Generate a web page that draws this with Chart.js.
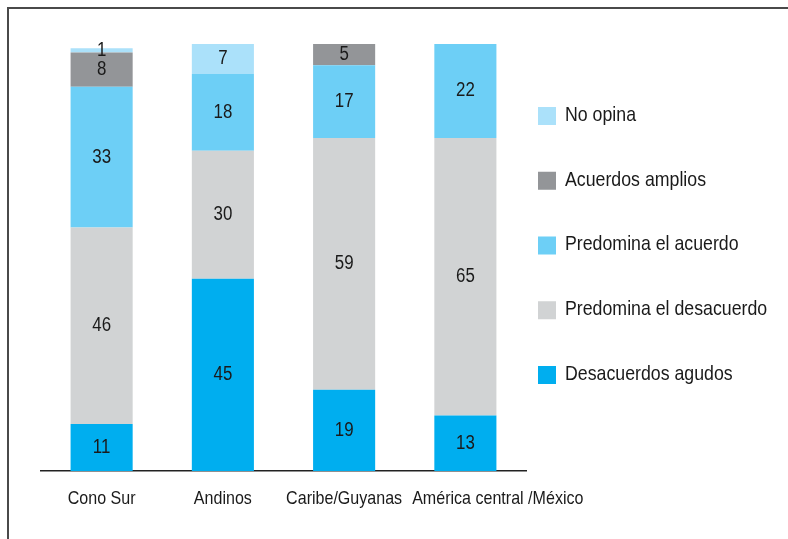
<!DOCTYPE html>
<html>
<head>
<meta charset="utf-8">
<script src="https://cdn.jsdelivr.net/npm/chart.js@4/dist/chart.umd.min.js"></script>
<style>
  html, body { margin: 0; padding: 0; background: #fff; }
  #wrap { width: 788px; height: 539px; }
</style>
</head>
<body>
<div id="wrap"><canvas id="barChart" width="788" height="539"></canvas></div>
<script>
// data
const regiones = ["Cono Sur", "Andinos", "Caribe/Guyanas", "América central /México"];
const desacuerdosAgudos = [11, 45, 19, 13];
const predominaDesacuerdo = [46, 30, 59, 65];
const predominaAcuerdo = [33, 18, 17, 22];
const acuerdosAmplios = [8, 0, 5, 0];
const noOpina = [1, 7, 0, 0];

const FONT = "'Liberation Sans', Arial, sans-serif";
const INK = "#1a1a1a";
const NARROW = 0.845; // squeeze to look like a condensed face

// draw condensed text; align: left | center
function narrowText(ctx, text, x, y, size, align) {
  ctx.save();
  ctx.font = size + "px " + FONT;
  ctx.textBaseline = "middle";
  ctx.textAlign = "left";
  const w = ctx.measureText(text).width * NARROW;
  const left = align === "center" ? x - w / 2 : x;
  ctx.translate(left, y);
  ctx.scale(NARROW, 1);
  ctx.fillText(text, 0, 0);
  ctx.restore();
  return w;
}
function narrowWidth(ctx, text, size) {
  ctx.save();
  ctx.font = size + "px " + FONT;
  const w = ctx.measureText(text).width * NARROW;
  ctx.restore();
  return w;
}

// numbers inside segments
const segmentLabels = {
  id: "segmentLabels",
  afterDatasetsDraw(chart) {
    const ctx = chart.ctx;
    chart.data.datasets.forEach((ds, i) => {
      chart.getDatasetMeta(i).data.forEach((bar, j) => {
        const v = ds.data[j];
        if (!v) return;
        const { x, y, base } = bar.getProps(["x", "y", "base"], true);
        ctx.fillStyle = INK;
        narrowText(ctx, String(v), x, (y + base) / 2, 20, "center");
      });
    });
  },
};

// category names, legend on the right, frame lines
const decor = {
  id: "decor",
  afterDraw(chart) {
    const ctx = chart.ctx;
    ctx.save();
    // frame
    ctx.strokeStyle = "#4a4a4a";
    ctx.lineWidth = 2;
    ctx.beginPath();
    ctx.moveTo(8, 539);
    ctx.lineTo(8, 8);
    ctx.lineTo(788, 8);
    ctx.stroke();

    // category labels, centred under bars, pushed right if they would collide
    const xs = chart.scales.x;
    const ly = xs.bottom - 40;
    let prevRight = -Infinity;
    ctx.fillStyle = INK;
    chart.data.labels.forEach((lab, j) => {
      const w = narrowWidth(ctx, lab, 19);
      let left = xs.getPixelForValue(j) - w / 2;
      if (left < prevRight + 10) left = prevRight + 10;
      narrowText(ctx, lab, left, ly, 19, "left");
      prevRight = left + w;
    });

    // legend, top item = top of stack
    const items = chart.data.datasets.slice().reverse();
    items.forEach((ds, k) => {
      const cy = 116 + k * 64.75;
      ctx.fillStyle = ds.backgroundColor;
      ctx.fillRect(538, cy - 9, 18, 18);
      ctx.fillStyle = INK;
      narrowText(ctx, ds.label, 565, cy - 1, 21, "left");
    });
    ctx.restore();
  },
};

new Chart("barChart", {
  type: "bar",
  data: {
    labels: regiones,
    datasets: [
      { label: "Desacuerdos agudos", data: desacuerdosAgudos, backgroundColor: "#00aeef" },
      { label: "Predomina el desacuerdo", data: predominaDesacuerdo, backgroundColor: "#d1d3d4" },
      { label: "Predomina el acuerdo", data: predominaAcuerdo, backgroundColor: "#6dcff6" },
      { label: "Acuerdos amplios", data: acuerdosAmplios, backgroundColor: "#939598" },
      { label: "No opina", data: noOpina, backgroundColor: "#abe1fa" },
    ],
  },
  options: {
    responsive: false,
    animation: false,
    datasets: { bar: { categoryPercentage: 1, barPercentage: 0.512 } },
    layout: { padding: { left: 41, right: 262, top: 44, bottom: 0 } },
    plugins: {
      legend: { display: false },
      tooltip: { enabled: false },
    },
    scales: {
      x: {
        stacked: true,
        grid: { display: false, drawTicks: false },
        border: { display: true, color: "#222", width: 1.5 },
        ticks: { display: false },
        afterFit(s) { s.height = 68; },
      },
      y: {
        stacked: true,
        display: false,
        min: 0,
        max: 100,
      },
    },
  },
  plugins: [segmentLabels, decor],
});
</script>
</body>
</html>
